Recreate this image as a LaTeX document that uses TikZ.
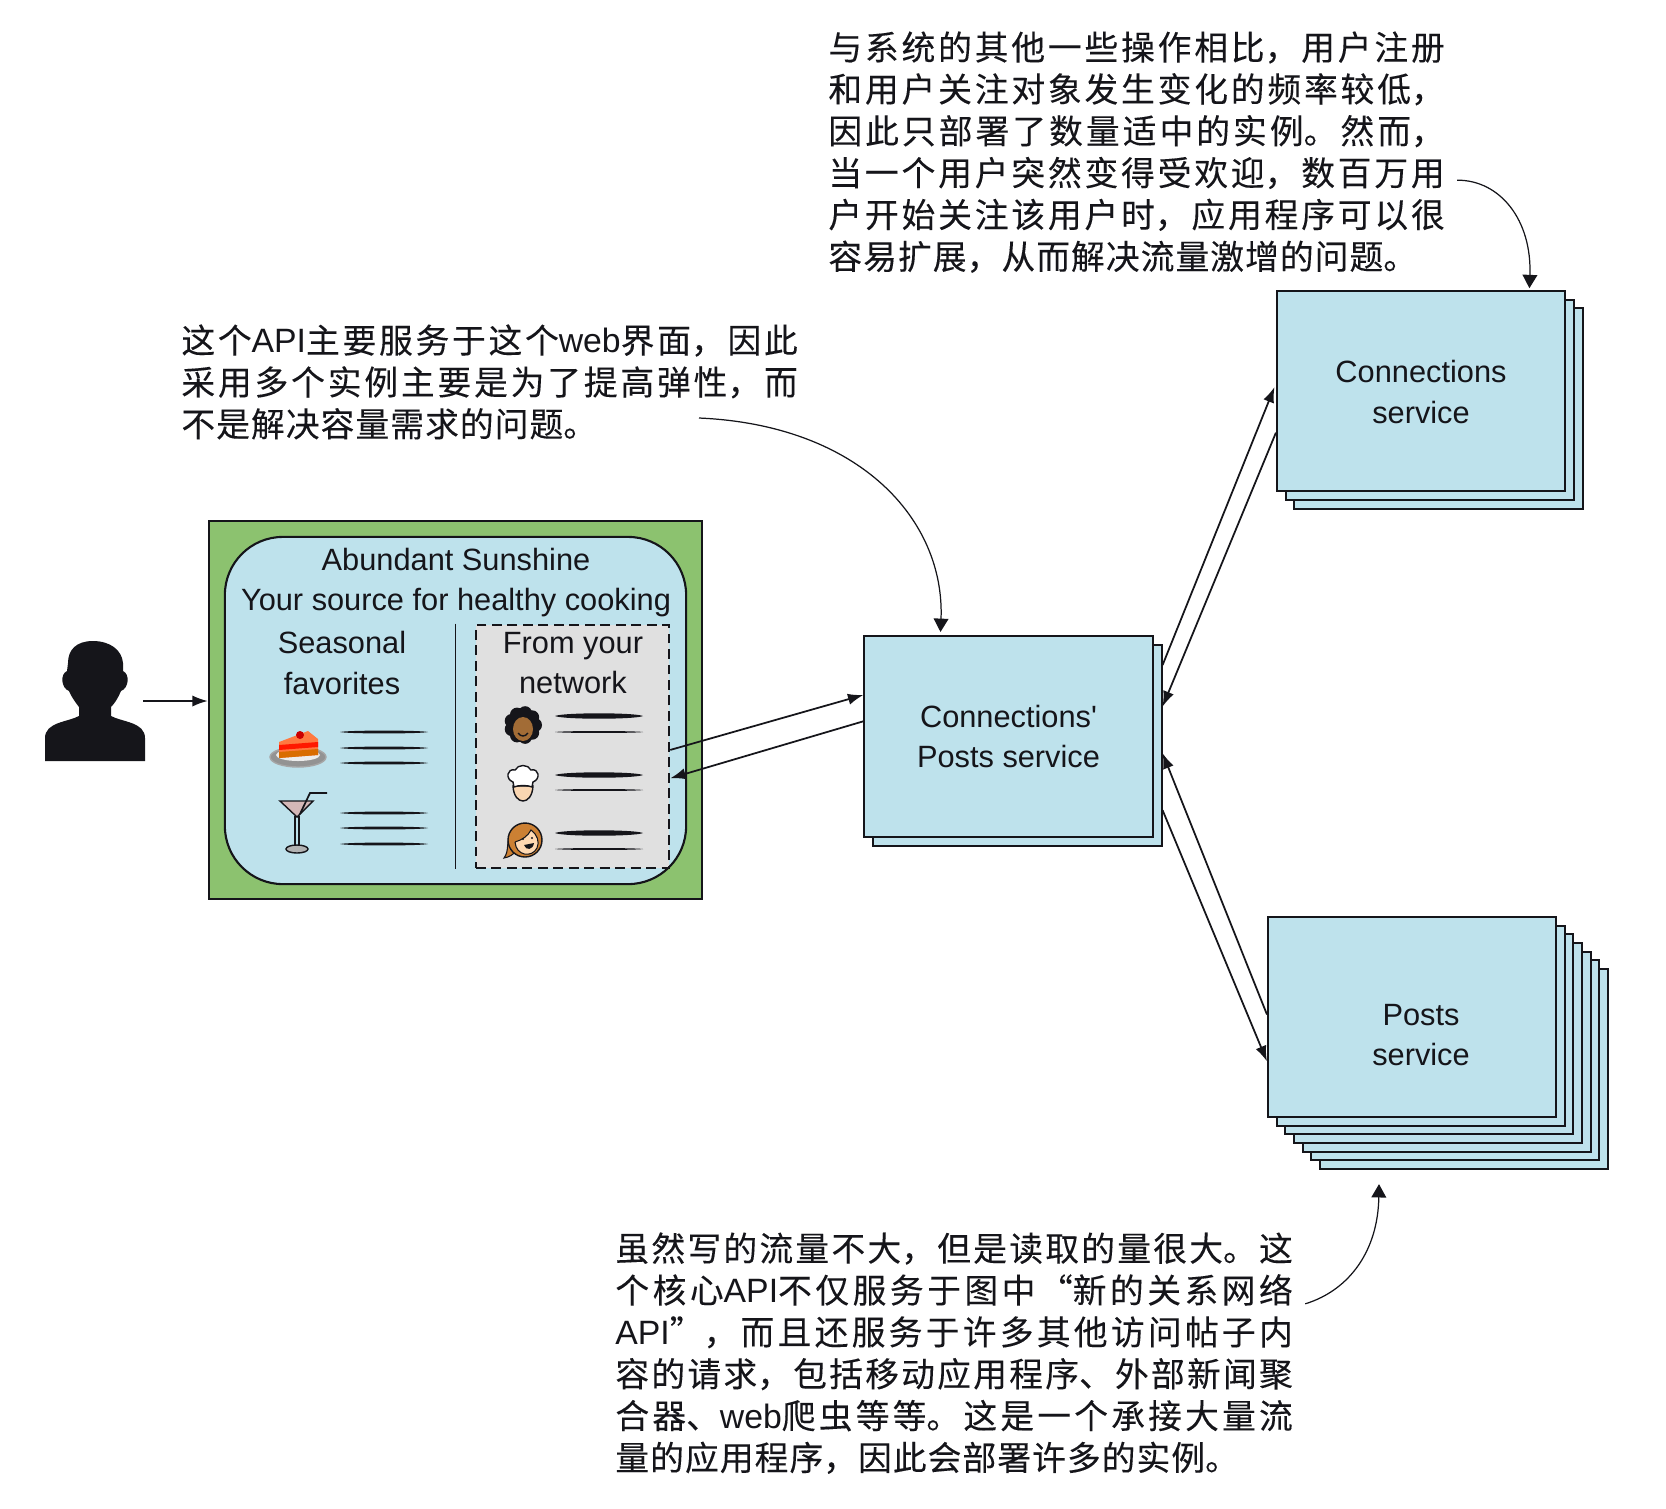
\documentclass[tikz,border=0pt]{standalone}
\usepackage{fontspec}
\usetikzlibrary{arrows.meta}
\setmainfont{Liberation Sans}
\newfontfamily\cjk[FakeBold=0.15]{Noto Sans CJK SC}
\XeTeXlinebreaklocale "zh"
\XeTeXlinebreakskip=0.3pt plus 3pt

\definecolor{svcblue}{HTML}{BEE2EC}
\definecolor{pagegreen}{HTML}{8CC26F}
\definecolor{boxgrey}{HTML}{E0E0E0}
\definecolor{ink}{HTML}{15151A}

\tikzset{
    svc/.style={draw=ink, fill=svcblue, line width=0.55pt, minimum width=2.88cm, minimum height=2cm, align=center, inner sep=0pt},
    lbl/.style={text=ink, font=\fontsize{8.75}{11.4}\selectfont, align=center},
    note/.style={text=ink, anchor=north west, align=justify, font=\cjk\fontsize{9.6}{11.9}\selectfont},
    link/.style={draw=ink, line width=0.5pt, -{Latex[length=4.4pt,width=3.2pt]}},
    remark/.style={draw=ink, line width=0.35pt, -{Triangle[length=3.8pt,width=4.2pt]}},
}

\newcommand{\scribble}[3]{\fill[ink] (#1,#2) .. controls (#1+8,#2-#3) and (#1+80,#2-#3) .. (#1+88,#2) .. controls (#1+80,#2+#3) and (#1+8,#2+#3) .. (#1,#2);}

\begin{document}
\begin{tikzpicture}[x=0.01cm, y=-0.01cm]
    \useasboundingbox (0,0) rectangle (1666,1508);

    % the person
    \fill[ink] (93,641) .. controls (76,641) and (68,650) .. (68,663) -- (67,671)
        .. controls (60,674) and (61,688) .. (69,691) .. controls (72,698) and (76,703) .. (79,707)
        -- (79,716) .. controls (68,722) and (45,722) .. (45,738) -- (45,761) -- (145,761) -- (145,738)
        .. controls (145,722) and (122,722) .. (111,716) -- (111,707)
        .. controls (115,703) and (118,698) .. (121,691) .. controls (129,688) and (130,674) .. (123,671)
        -- (123,663) .. controls (122,650) and (110,641) .. (93,641);
    \coordinate (user) at (143,701);

    % web page
    \node[draw=ink, fill=pagegreen, line width=0.6pt, minimum width=4.93cm, minimum height=3.78cm] (page) at (455.5,710) {};
    \node[draw=ink, fill=svcblue, line width=0.6pt, rounded corners=0.58cm, minimum width=4.61cm, minimum height=3.47cm] (screen) at (455.5,710.5) {};
    \node[draw=ink, fill=boxgrey, dashed, dash pattern=on 2.8pt off 1.6pt, line width=0.7pt, minimum width=1.93cm, minimum height=2.43cm] (network) at (572.5,746.5) {};
    \draw[ink, line width=0.55pt] (screen.south |- network.north) -- (screen.south |- network.south);

    \node[lbl] (title) at (456,559) {Abundant Sunshine};
    \node[lbl] (slogan) at (456,603) {Your source for healthy cooking};
    \node[lbl] (seasonal) at (342,663) {Seasonal\\favorites};
    \node[lbl] (fromyour) at (573,663) {From your\\network};

    % cake
    \fill[gray!85, draw=gray!70] (298,757) ellipse (28 and 10);
    \fill[gray!15] (298,755) ellipse (22 and 6);
    \fill[orange!60!red!75] (279,742) -- (308,731) -- (318,739) -- (318,755) -- (279,758) -- cycle;
    \fill[red!80!orange] (279,745) -- (318,742) -- (318,747) -- (279,750) -- cycle;
    \fill[orange!85!black] (279,752) -- (318,749) -- (318,755) -- (279,758) -- cycle;
    \fill[red!80!black] (300,735) circle (4);

    % martini
    \fill[red!25!gray!45, draw=ink, line width=0.4pt] (280,801) -- (313,801) -- (297,817) -- cycle;
    \draw[ink, line width=0.5pt] (295,816) -- (295,846);
    \draw[ink, line width=0.5pt] (299,816) -- (299,846);
    \fill[gray!60, draw=ink, line width=0.4pt] (297,849) ellipse (11 and 4);
    \draw[ink, line width=0.5pt] (300,814) -- (310,793) -- (327,793);

    \scribble{340}{732}{1.9}
    \scribble{340}{748}{1.9}
    \scribble{340}{763}{1.9}
    \scribble{340}{813}{1.9}
    \scribble{340}{828}{1.9}
    \scribble{340}{844}{1.9}

    % curly hair
    \begin{scope}[shift={(523,725)}]
        \foreach \a in {0,40,...,320} \fill[ink] (\a:12) circle (7);
        \fill[brown!85!black] (0,4) ellipse (10 and 12);
        \draw[ink, line width=0.4pt] (-5,8) .. controls (-2,12) and (2,12) .. (5,8);
    \end{scope}

    % chef
    \fill[orange!25!white!90!brown, draw=ink, line width=0.4pt] (513,786) .. controls (514,806) and (532,806) .. (533,786) -- cycle;
    \fill[white, draw=ink, line width=0.4pt] (514,787) -- (513,782) .. controls (505,779) and (507,768) .. (515,770)
        .. controls (518,764) and (528,764) .. (531,770) .. controls (539,768) and (541,779) .. (533,782) -- (532,787)
        .. controls (528,785) and (518,785) .. (514,787);

    % ponytail
    \fill[brown!80!orange, draw=ink, line width=0.3pt] (512,832) .. controls (505,842) and (510,850) .. (504,858)
        .. controls (515,856) and (520,848) .. (516,838) -- cycle;
    \fill[brown!80!orange, draw=ink, line width=0.4pt] (525,840) circle (17);
    \fill[orange!30!white, draw=ink, line width=0.3pt] (515,842) .. controls (522,840) and (528,836) .. (531,830)
        .. controls (537,834) and (540,842) .. (537,848) .. controls (532,858) and (516,856) .. (515,842);
    \fill[ink] (523,839) circle (1.2);
    \fill[ink] (532,838) circle (1.2);
    \fill[ink] (524,845) -- (534,843) .. controls (533,850) and (526,851) .. (524,845);

    \scribble{555}{716}{3.6}
    \scribble{555}{732}{1.3}
    \scribble{555}{775}{3.6}
    \scribble{555}{790}{1.3}
    \scribble{555}{833}{3.6}
    \scribble{555}{849}{1.3}

    % services
    \node[svc] (cpback) at (1017.5,745.5) {};
    \node[svc] (cpservice) at (1008.5,736.5) {};
    \node[lbl] (cptext) at (1008.5,736.5) {Connections\textquotesingle\\Posts service};

    \node[svc] (conn3) at (1438.5,408.5) {};
    \node[svc] (conn2) at (1430,400) {};
    \node[svc] (connservice) at (1421,391) {};
    \node[lbl] (conntext) at (1421,392) {Connections\\service};

    \node[svc] (posts7) at (1464,1069) {};
    \node[svc] (posts6) at (1455.3,1060.3) {};
    \node[svc] (posts5) at (1446.7,1051.7) {};
    \node[svc] (posts4) at (1438,1043) {};
    \node[svc] (posts3) at (1429.3,1034.3) {};
    \node[svc] (posts2) at (1420.7,1025.7) {};
    \node[svc] (postsservice) at (1412,1017) {};
    \node[lbl] (poststext) at (1421,1035) {Posts\\service};

    % connectors
    \draw[link] (user) -- (user -| page.west);
    \draw[link] (network.-2) -- (cpservice.164);
    \draw[link] (cpservice.174) -- (network.-18);
    \draw[link, shorten >=1.1pt] (cpback.29) -- (connservice.177);
    \draw[link] (connservice.196) -- (cpback.15);
    \draw[link] (postsservice.179) -- (cpback.-3);
    \draw[link] (cpback.-24) -- (postsservice.197);

    % the three remarks
    \node[note, text width=6.16cm] (remarkconn) at (816,19) {与系统的其他一些操作相比，用户注册\linebreak
        和用户关注对象发生变化的频率较低，\linebreak
        因此只部署了数量适中的实例。然而，\linebreak
        当一个用户突然变得受欢迎，数百万用\linebreak
        户开始关注该用户时，应用程序可以很\linebreak
        容易扩展，从而解决流量激增的问题。};
    \node[note, text width=6.16cm] (remarkapi) at (169,312) {这个{\rmfamily API}主要服务于这个{\rmfamily web}界面，因此\linebreak
        采用多个实例主要是为了提高弹性，而\linebreak
        不是解决容量需求的问题。};
    \node[note, text width=6.77cm] (remarkposts) at (603,1220) {虽然写的流量不大，但是读取的量很大。这\linebreak
        个核心{\rmfamily API}不仅服务于图中“新的关系网络\linebreak
        {\rmfamily API}”，而且还服务于许多其他访问帖子内\linebreak
        容的请求，包括移动应用程序、外部新闻聚\linebreak
        合器、{\rmfamily web}爬虫等等。这是一个承接大量流\linebreak
        量的应用程序，因此会部署许多的实例。};

    \coordinate (apifrom) at (699,418);
    \draw[remark, shorten >=1pt] (apifrom) .. controls (860,425) and (945,520) .. (cpservice.124.5);
    \draw[remark, shorten >=0.5pt] (remarkconn.-5) .. controls (1500,180) and (1532,220) .. (connservice.43.5);
    \draw[remark, shorten >=4pt] (remarkposts.8.8) .. controls (1350,1290) and (1378,1250) .. (posts7.-130.4);
\end{tikzpicture}
\end{document}
